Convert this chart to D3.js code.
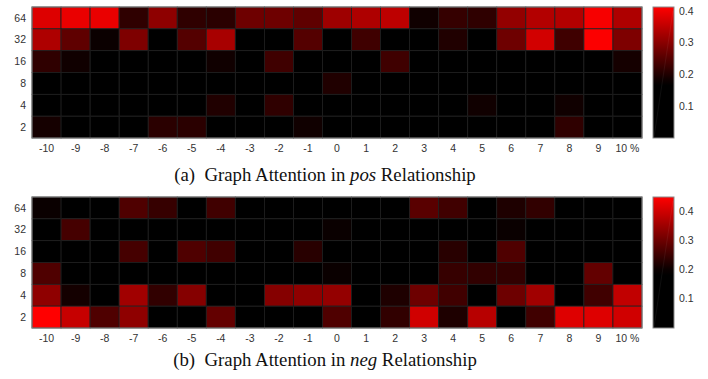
<!DOCTYPE html>
<html>
<head>
<meta charset="utf-8">
<script src="https://cdn.jsdelivr.net/npm/d3@7"></script>
<style>
  html, body { margin: 0; padding: 0; background: #fff; }
  svg { display: block; }
</style>
</head>
<body>
<svg id="chart" width="708" height="379"></svg>
<script>
// ── data ────────────────────────────────────────────────
const windows = [64, 32, 16, 8, 4, 2];
const offsets = [-10, -9, -8, -7, -6, -5, -4, -3, -2, -1, 0, 1, 2, 3, 4, 5, 6, 7, 8, 9, 10];
const offsetLabels = ['-10', '-9', '-8', '-7', '-6', '-5', '-4', '-3', '-2', '-1', '0', '1', '2', '3', '4', '5', '6', '7', '8', '9', '10 %'];

// pos relationship, one row per window (64 → 2), columns -10 … 10
const posValues = [
  [0.38, 0.393, 0.393, 0.215, 0.305, 0.215, 0.21, 0.275, 0.275, 0.26, 0.32, 0.335, 0.35, 0.185, 0.22, 0.215, 0.31, 0.34, 0.34, 0.405, 0.335],
  [0.335, 0.26, 0.18, 0.29, 0.1, 0.25, 0.33, 0.1, 0.1, 0.25, 0.12, 0.23, 0.1, 0.17, 0.2, 0.1, 0.275, 0.37, 0.23, 0.41, 0.29],
  [0.215, 0.185, 0.12, 0.12, 0.12, 0.12, 0.185, 0.12, 0.23, 0.12, 0.12, 0.12, 0.23, 0.12, 0.12, 0.12, 0.12, 0.12, 0.12, 0.12, 0.19],
  [0.12, 0.12, 0.12, 0.12, 0.12, 0.12, 0.12, 0.12, 0.12, 0.12, 0.2, 0.12, 0.12, 0.12, 0.12, 0.12, 0.12, 0.12, 0.12, 0.12, 0.12],
  [0.12, 0.12, 0.12, 0.12, 0.12, 0.12, 0.2, 0.12, 0.215, 0.12, 0.12, 0.12, 0.12, 0.12, 0.12, 0.185, 0.12, 0.12, 0.185, 0.12, 0.12],
  [0.19, 0.12, 0.12, 0.12, 0.21, 0.21, 0.12, 0.12, 0.12, 0.185, 0.12, 0.12, 0.12, 0.12, 0.12, 0.12, 0.12, 0.12, 0.215, 0.12, 0.12],
];

// neg relationship
const negValues = [
  [0.2, 0.12, 0.12, 0.27, 0.245, 0.12, 0.255, 0.12, 0.12, 0.12, 0.12, 0.12, 0.12, 0.28, 0.255, 0.12, 0.22, 0.24, 0.12, 0.12, 0.12],
  [0.12, 0.26, 0.12, 0.12, 0.12, 0.12, 0.12, 0.12, 0.12, 0.12, 0.2, 0.12, 0.12, 0.12, 0.12, 0.12, 0.2, 0.12, 0.12, 0.12, 0.12],
  [0.12, 0.12, 0.12, 0.26, 0.12, 0.27, 0.255, 0.12, 0.12, 0.23, 0.12, 0.12, 0.12, 0.12, 0.23, 0.12, 0.27, 0.12, 0.12, 0.12, 0.12],
  [0.27, 0.12, 0.12, 0.12, 0.12, 0.12, 0.12, 0.12, 0.12, 0.12, 0.2, 0.12, 0.12, 0.12, 0.245, 0.24, 0.24, 0.12, 0.12, 0.29, 0.12],
  [0.335, 0.21, 0.12, 0.353, 0.24, 0.325, 0.12, 0.12, 0.325, 0.335, 0.34, 0.12, 0.22, 0.3, 0.255, 0.12, 0.3, 0.353, 0.12, 0.255, 0.385],
  [0.45, 0.39, 0.27, 0.335, 0.12, 0.12, 0.29, 0.12, 0.12, 0.12, 0.27, 0.12, 0.24, 0.4, 0.22, 0.375, 0.12, 0.255, 0.415, 0.415, 0.4],
];

const posTicks = [0.1, 0.2, 0.3, 0.4];
const negTicks = [0.1, 0.2, 0.3, 0.4];

// ── panels ──────────────────────────────────────────────
const svg = d3.select('#chart');
const defs = svg.append('defs');

const panels = [
  { id: 'pos', values: posValues, ticks: posTicks, top: 7, height: 131,
    cmin: 0, cknee: 0.17, cmax: 0.4125, tag: '(a)', word: 'pos', capY: 181 },
  { id: 'neg', values: negValues, ticks: negTicks, top: 197, height: 131,
    cmin: 0, cknee: 0.19, cmax: 0.448, tag: '(b)', word: 'neg', capY: 366 },
];

const left = 32, right = 642;
const barX = 653, barW = 21;

panels.forEach(p => {
  const g = svg.append('g');

  const x = d3.scaleBand().domain(offsets).range([left, right]);
  const y = d3.scaleBand().domain(windows).range([p.top, p.top + p.height]);
  const color = d3.scaleLinear()
    .domain([p.cmin, p.cknee, p.cmax])
    .range(['#000000', '#000000', '#ff0000'])
    .clamp(true);

  const cells = [];
  p.values.forEach((row, i) => row.forEach((v, j) => {
    cells.push({ w: windows[i], o: offsets[j], v });
  }));

  g.selectAll('rect.cell')
    .data(cells)
    .join('rect')
    .attr('class', 'cell')
    .attr('x', d => x(d.o))
    .attr('y', d => y(d.w))
    .attr('width', x.bandwidth())
    .attr('height', y.bandwidth())
    .attr('fill', d => color(d.v))
    .attr('stroke', '#1e1e1e')
    .attr('stroke-width', 0.8);

  // frame
  g.append('rect')
    .attr('x', left).attr('y', p.top)
    .attr('width', right - left).attr('height', p.height)
    .attr('fill', 'none')
    .attr('stroke', '#8a8a8a')
    .attr('stroke-width', 1);

  // y labels
  g.selectAll('text.ylab')
    .data(windows)
    .join('text')
    .attr('class', 'ylab')
    .attr('x', left - 6)
    .attr('y', d => y(d) + y.bandwidth() / 2)
    .attr('dy', '0.35em')
    .attr('text-anchor', 'end')
    .attr('font-family', 'Liberation Sans, Arial, sans-serif')
    .attr('font-size', 10.5)
    .attr('fill', '#333')
    .text(d => d);

  // x labels
  g.selectAll('text.xlab')
    .data(offsets)
    .join('text')
    .attr('class', 'xlab')
    .attr('x', d => x(d) + x.bandwidth() / 2)
    .attr('y', p.top + p.height + 14)
    .attr('text-anchor', 'middle')
    .attr('font-family', 'Liberation Sans, Arial, sans-serif')
    .attr('font-size', 10.5)
    .attr('fill', '#333')
    .text((d, i) => offsetLabels[i]);

  // colour bar
  const cb = d3.scaleLinear().domain([p.cmin, p.cmax]).range([p.top + p.height, p.top]);
  const grad = defs.append('linearGradient')
    .attr('id', 'grad-' + p.id)
    .attr('x1', 0).attr('y1', 1).attr('x2', 0).attr('y2', 0);
  d3.range(0, 1.0001, 0.05).forEach(t => {
    const v = p.cmin + t * (p.cmax - p.cmin);
    grad.append('stop').attr('offset', t).attr('stop-color', color(v));
  });
  g.append('rect')
    .attr('x', barX).attr('y', p.top)
    .attr('width', barW).attr('height', p.height)
    .attr('fill', `url(#grad-${p.id})`)
    .attr('stroke', '#8a8a8a')
    .attr('stroke-width', 1);
  // faint diagonal artefact seen in the bar
  g.append('line')
    .attr('x1', barX + 1).attr('y1', p.top + p.height - 1)
    .attr('x2', barX + barW - 1).attr('y2', p.top + 4)
    .attr('stroke', '#ffffff').attr('stroke-opacity', 0.06);

  g.selectAll('text.cblab')
    .data(p.ticks)
    .join('text')
    .attr('class', 'cblab')
    .attr('x', barX + barW + 5)
    .attr('y', d => cb(d))
    .attr('dy', '0.35em')
    .attr('font-family', 'Liberation Sans, Arial, sans-serif')
    .attr('font-size', 10.5)
    .attr('fill', '#333')
    .text(d => d3.format('.1f')(d));

  // caption
  const cap = svg.append('text')
    .attr('x', 325)
    .attr('y', p.capY)
    .attr('text-anchor', 'middle')
    .attr('font-family', 'Liberation Serif, DejaVu Serif, serif')
    .attr('font-size', 18.8)
    .attr('fill', '#111');
  cap.append('tspan').text(p.tag + '\u00a0\u00a0Graph Attention in ');
  cap.append('tspan').attr('font-style', 'italic').text(p.word);
  cap.append('tspan').text(' Relationship');
});
</script>
</body>
</html>
